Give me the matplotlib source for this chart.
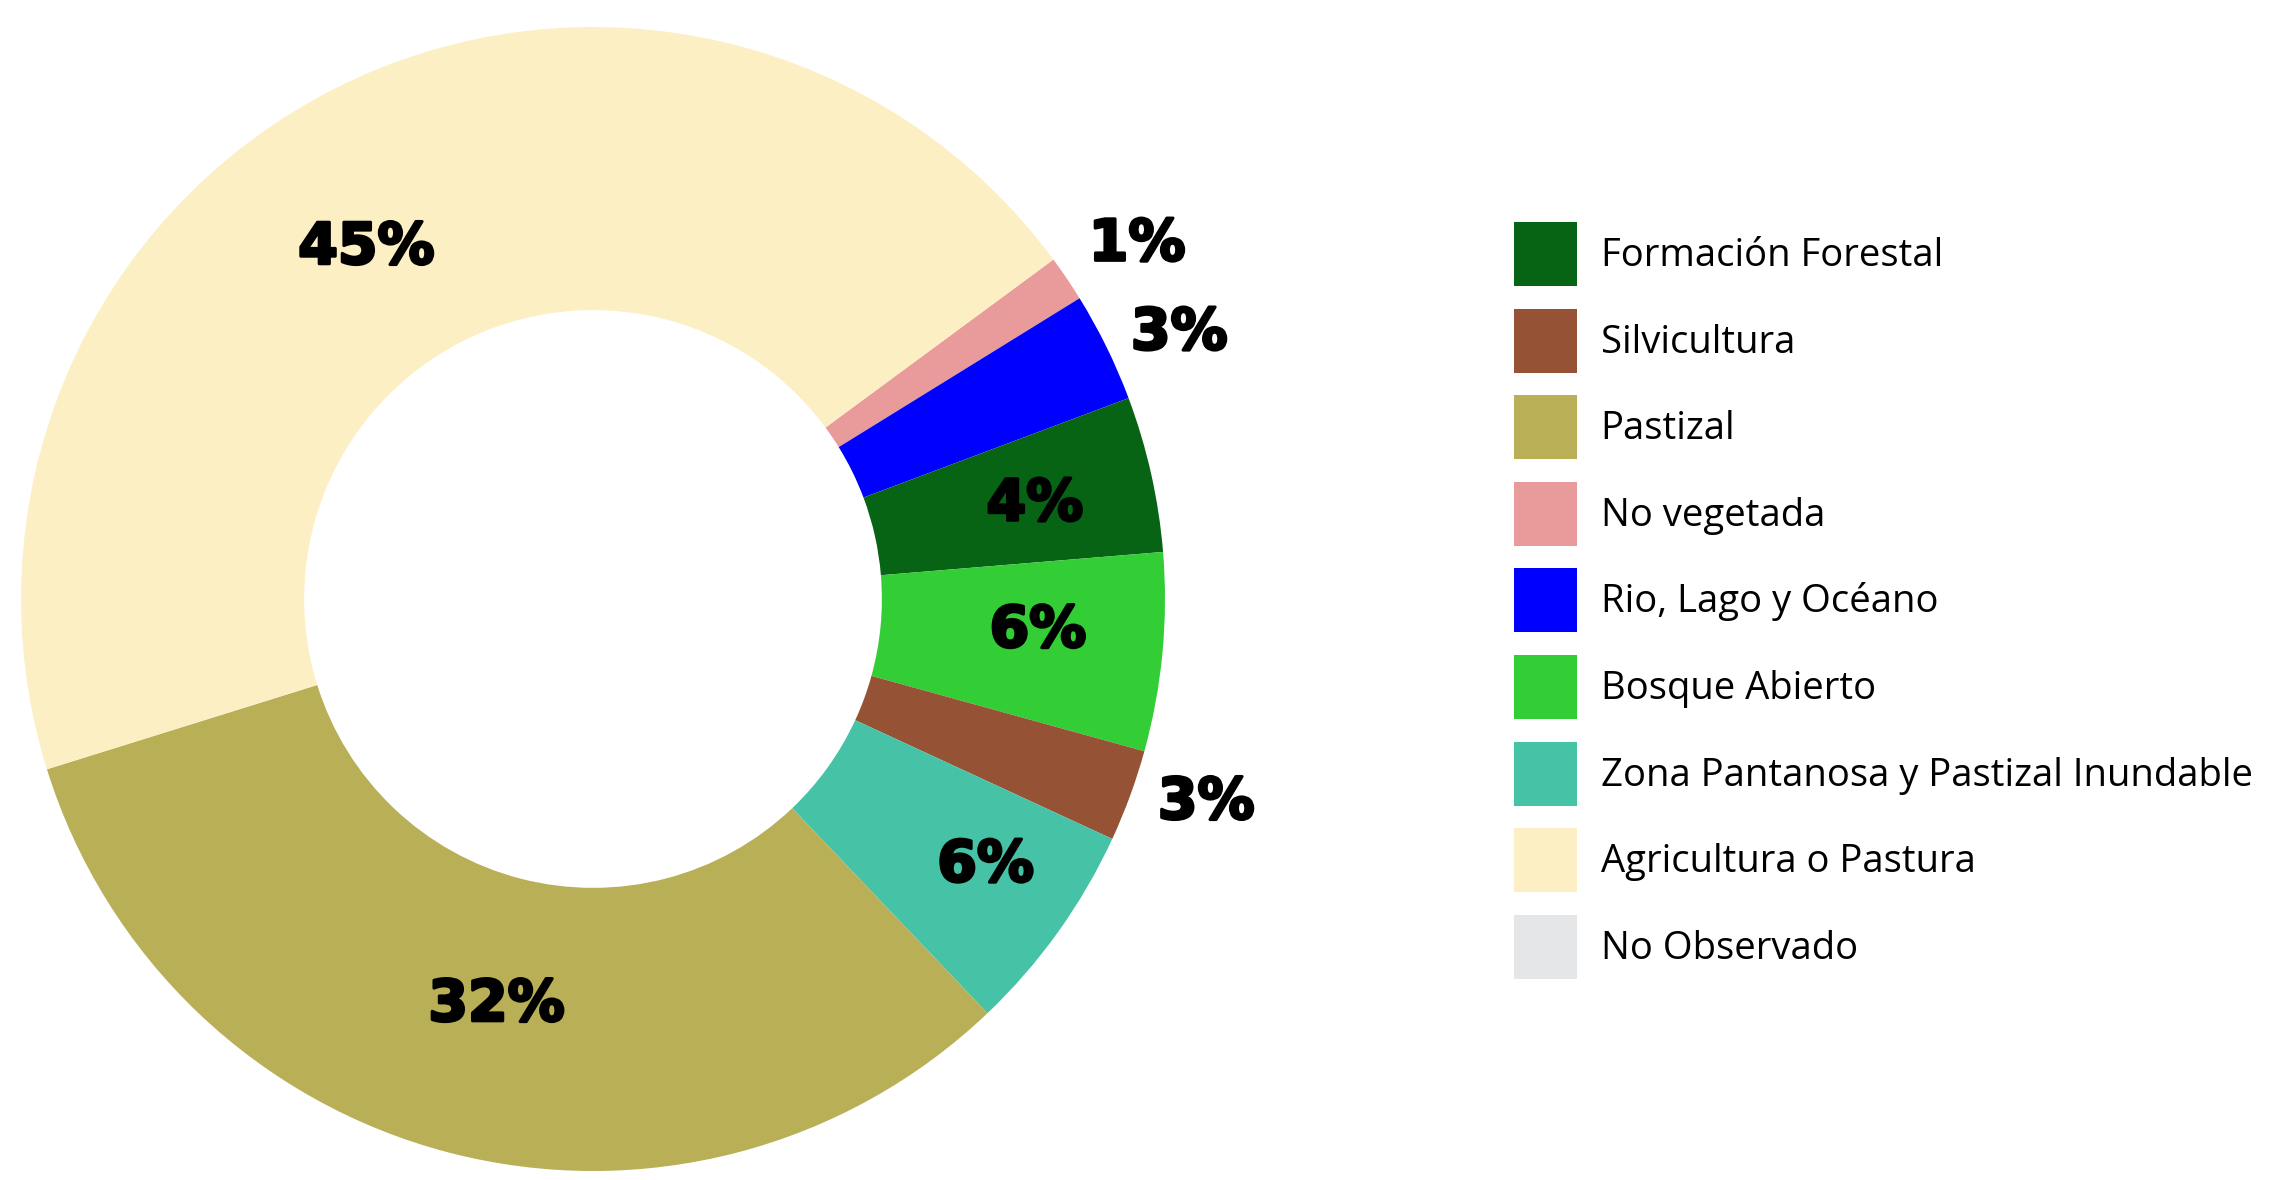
import matplotlib
matplotlib.use("Agg")
import matplotlib.pyplot as plt
import matplotlib.patheffects as pe
import numpy as np
from matplotlib.patches import Patch

# Data (clockwise order starting from the top-right boundary)
pie_categories = ["No vegetada", "Rio, Lago y Océano", "Formación Forestal",
                  "Bosque Abierto", "Silvicultura",
                  "Zona Pantanosa y Pastizal Inundable", "Pastizal",
                  "Agricultura o Pastura"]
pie_values = [1.3, 3.1, 4.4, 5.6, 2.6, 6.0, 32.3, 44.7]
pie_labels = ["1%", "3%", "4%", "6%", "3%", "6%", "32%", "45%"]

legend_categories = ["Formación Forestal", "Silvicultura", "Pastizal",
                     "No vegetada", "Rio, Lago y Océano", "Bosque Abierto",
                     "Zona Pantanosa y Pastizal Inundable",
                     "Agricultura o Pastura", "No Observado"]

colors = {
    "Formación Forestal": "#066414",
    "Silvicultura": "#955235",
    "Pastizal": "#b8af57",
    "No vegetada": "#e99a9a",
    "Rio, Lago y Océano": "#0000ff",
    "Bosque Abierto": "#33cd36",
    "Zona Pantanosa y Pastizal Inundable": "#46c3a6",
    "Agricultura o Pastura": "#fdefc4",
    "No Observado": "#e5e6e8",
}

# label placement style (radius as fraction of outer radius, angular nudge in degrees)
label_radius = [1.135, 1.125, 0.79, 0.78, 1.13, 0.83, 0.73, 0.73]
label_nudge = [-1.0, -1.8, -0.6, 1.2, 1.7, 1.4, 1.2, 6.0]

W, H = 2290, 1180
fig = plt.figure(figsize=(W / 100, H / 100), dpi=100)
cx, cy, R = 593, 599, 572
ax = fig.add_axes([(cx - R) / W, (H - cy - R) / H, 2 * R / W, 2 * R / H])

wedges, _ = ax.pie(pie_values, colors=[colors[c] for c in pie_categories],
                   startangle=36.4, counterclock=False, radius=1.0,
                   wedgeprops=dict(width=0.495, linewidth=0))
ax.set_xlim(-1, 1)
ax.set_ylim(-1, 1)
ax.set_aspect("equal")
ax.axis("off")

for w, lab, r, nd in zip(wedges, pie_labels, label_radius, label_nudge):
    ang = np.deg2rad((w.theta1 + w.theta2) / 2 + nd)
    ax.text(r * np.cos(ang), r * np.sin(ang), lab, ha="center", va="center",
            fontsize=41, fontweight="bold", family=["DejaVu Sans"],
            color="black",
            path_effects=[pe.withStroke(linewidth=2.2, foreground="black")])

handles = [Patch(facecolor=colors[c], edgecolor="none") for c in legend_categories]
fs = 27.5
fpx = fs * 100 / 72
fig.legend(handles, legend_categories, loc="upper left",
           bbox_to_anchor=(1514 / W, 1 - 222 / H), frameon=False,
           borderpad=0, borderaxespad=0,
           handlelength=63 / fpx, handleheight=(64 / fpx - 0.245) / 0.65,
           labelspacing=22.6 / fpx, handletextpad=0.62,
           prop=dict(family=["Open Sans", "DejaVu Sans"], size=fs,
                     weight="medium"))

fig.savefig("out.png", dpi=100, facecolor="white")
